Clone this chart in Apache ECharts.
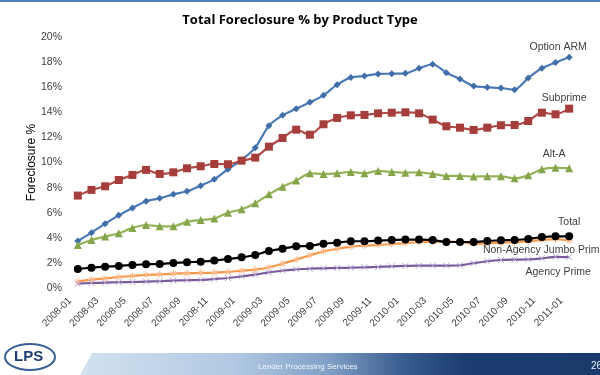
<!DOCTYPE html>
<html>
<head>
<meta charset="utf-8">
<script src="https://cdn.jsdelivr.net/npm/echarts@6/dist/echarts.min.js"></script>
<style>
html,body{margin:0;padding:0;background:#fff;}
#main{width:600px;height:375px;}
</style>
</head>
<body>
<div id="main"></div>
<script>
// months 2008-01 .. 2011-01
var months = ['2008-01','2008-02','2008-03','2008-04','2008-05','2008-06','2008-07','2008-08','2008-09','2008-10','2008-11','2008-12',
  '2009-01','2009-02','2009-03','2009-04','2009-05','2009-06','2009-07','2009-08','2009-09','2009-10','2009-11','2009-12',
  '2010-01','2010-02','2010-03','2010-04','2010-05','2010-06','2010-07','2010-08','2010-09','2010-10','2010-11','2010-12','2011-01'];

var optionArm = [3.76,4.42,5.14,5.80,6.39,6.92,7.15,7.47,7.71,8.16,8.66,9.46,10.2,11.18,12.93,13.75,14.28,14.79,15.34,
  16.19,16.75,16.88,17.04,17.06,17.09,17.49,17.81,17.14,16.64,16.08,15.98,15.92,15.79,16.72,17.49,17.94,18.36];
var subprime = [7.37,7.82,8.11,8.61,9.01,9.41,9.09,9.22,9.54,9.70,9.88,9.86,10.15,10.39,11.26,11.95,12.61,12.21,13.04,
  13.54,13.75,13.78,13.91,13.96,13.99,13.91,13.41,12.88,12.77,12.59,12.77,12.96,12.98,13.30,13.96,13.83,14.28];
var altA = [3.44,3.84,4.11,4.37,4.80,5.03,4.93,4.93,5.30,5.43,5.54,6.01,6.28,6.76,7.47,8.08,8.56,9.14,9.09,
  9.14,9.25,9.14,9.33,9.25,9.19,9.22,9.09,8.93,8.93,8.88,8.90,8.90,8.74,8.98,9.46,9.59,9.54];
var total = [1.54,1.64,1.72,1.78,1.85,1.91,1.93,2.01,2.07,2.12,2.20,2.33,2.46,2.65,2.97,3.15,3.34,3.37,3.55,
  3.63,3.74,3.74,3.79,3.84,3.87,3.87,3.84,3.68,3.68,3.68,3.76,3.82,3.84,3.92,4.08,4.13,4.13];
var jumboPrime = [0.53,0.69,0.79,0.90,0.98,1.06,1.11,1.17,1.19,1.22,1.25,1.30,1.40,1.48,1.67,1.96,2.28,2.62,2.94,
  3.14,3.31,3.39,3.44,3.52,3.58,3.68,3.68,3.74,3.68,3.55,3.58,3.63,3.66,3.74,3.84,3.90,3.79];
var agencyPrime = [0.37,0.42,0.45,0.48,0.50,0.53,0.56,0.61,0.64,0.66,0.74,0.82,0.95,1.09,1.27,1.40,1.51,1.56,1.59,
  1.62,1.64,1.67,1.70,1.75,1.78,1.80,1.80,1.80,1.83,2.00,2.15,2.25,2.28,2.30,2.38,2.50,2.48];

var myChart = echarts.init(document.getElementById('main'));

var starPath = 'path://M5,0L5,10M0,5L10,5M1.5,1.5L8.5,8.5M8.5,1.5L1.5,8.5';
var xPath = 'path://M0,0L10,10M10,0L0,10';

function mk(name, data, color, symbol, size, symColor, off, z, smooth) {
  return {
    name: name,
    type: 'line',
    data: data,
    smooth: smooth,
    symbol: symbol,
    symbolSize: size,
    lineStyle: {color: color, width: 2.2},
    itemStyle: {color: symColor, borderColor: symColor, borderWidth: symbol.indexOf('path') === 0 ? 1 : 0},
    label: {
      show: true,
      formatter: function (p) { return p.dataIndex === data.length - 1 ? name : ''; },
      position: 'inside',
      offset: off,
      align: 'center',
      color: '#404040',
      fontSize: 10.5,
      fontFamily: 'Liberation Sans'
    },
    emphasis: {disabled: true},
    z: z
  };
}

myChart.setOption({
  animation: false,
  title: {
    text: 'Total Foreclosure % by Product Type',
    left: 'center',
    top: 9,
    textStyle: {fontSize: 13, fontWeight: 'bold', color: '#000', fontFamily: 'Open Sans'}
  },
  grid: {left: 71, right: 24, top: 36.7, bottom: 86.7},
  xAxis: {
    type: 'category',
    data: months,
    boundaryGap: true,
    axisLine: {show: false},
    axisTick: {show: false},
    axisLabel: {interval: 1, rotate: 45, fontSize: 10, color: '#404040', margin: 3, padding: [0, 11, 0, 0], fontFamily: 'Liberation Sans'}
  },
  yAxis: {
    type: 'value',
    min: 0, max: 20, interval: 2,
    name: 'Foreclosure %',
    nameLocation: 'middle',
    nameGap: 33,
    nameMoveOverlap: false,
    nameTextStyle: {fontSize: 12, color: '#000', fontFamily: 'Liberation Sans'},
    splitLine: {show: false},
    axisLine: {show: false},
    axisTick: {show: false},
    axisLabel: {formatter: '{value}%', fontSize: 10.5, color: '#404040', margin: 9, fontFamily: 'Liberation Sans'}
  },
  series: [
    mk('Option ARM', optionArm, '#4a7ab6', 'diamond', 7, '#3f6ea8', [-11, -10], 2, 0.25),
    mk('Subprime', subprime, '#b04a47', 'rect', 8, '#a53e3b', [-5, -11], 2, 0.25),
    mk('Alt-A', altA, '#93b355', 'triangle', 8, '#85a54b', [-15, -14], 2, 0.25),
    mk('Non-Agency Jumbo Prime', jumboPrime, '#f79646', starPath, 7, '#fbb98a', [-25, 9], 2, 0.3),
    mk('Agency Prime', agencyPrime, '#7a5a9c', xPath, 6, '#b7a5cf', [-11, 15], 2, 0.3),
    mk('Total', total, '#000000', 'circle', 8, '#000000', [0, -14], 3, 0.25)
  ],
  graphic: [
    {type: 'rect', left: 0, top: 0, shape: {width: 600, height: 2}, style: {fill: '#4f81bd'}, silent: true},
    {type: 'polygon', silent: true,
      shape: {points: [[92, 353], [600, 353], [600, 375], [80, 375]]},
      style: {fill: new echarts.graphic.LinearGradient(0, 0, 1, 0, [
        {offset: 0, color: '#d3e1f0'},
        {offset: 0.3, color: '#b0c8e2'},
        {offset: 0.48, color: '#7f9fc6'},
        {offset: 0.62, color: '#3a5d90'},
        {offset: 0.74, color: '#1b3d6f'},
        {offset: 1, color: '#1a3b6c'}
      ])}},
    {type: 'text', left: 258, top: 363, silent: true,
      style: {text: 'Lender Processing Services', fill: '#f2f5fa', fontSize: 8, fontFamily: 'Liberation Sans'}},
    {type: 'text', left: 591, top: 361, silent: true,
      style: {text: '26', fill: '#e8eef6', fontSize: 10, fontFamily: 'Liberation Sans'}},
    {type: 'ellipse', silent: true, shape: {cx: 30, cy: 357, rx: 25, ry: 13},
      style: {fill: 'none', stroke: '#3a5f96', lineWidth: 2}},
    {type: 'text', left: 14, top: 349, silent: true,
      style: {text: 'LPS', fill: '#1f3e73', fontSize: 15, fontWeight: 'bold', fontFamily: 'Liberation Sans'}}
  ]
});
</script>
</body>
</html>
